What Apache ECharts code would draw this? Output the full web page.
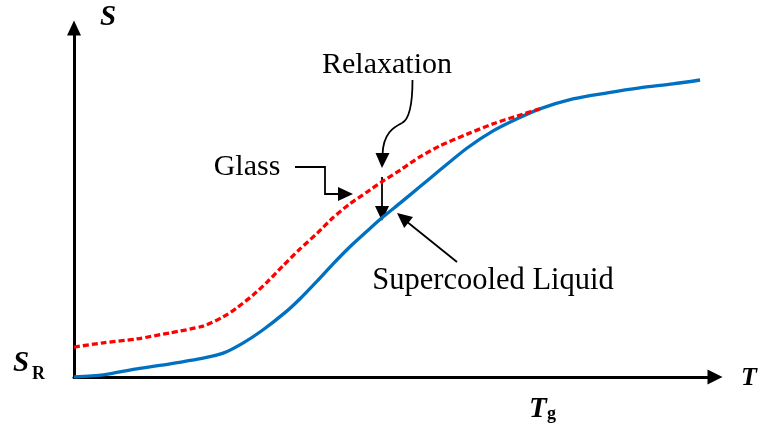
<!DOCTYPE html>
<html>
<head>
<meta charset="utf-8">
<script src="https://cdn.jsdelivr.net/npm/echarts@6/dist/echarts.min.js"></script>
<style>html,body{margin:0;padding:0;background:#fff}#c{width:763px;height:427px}</style>
</head>
<body>
<div id="c"></div>
<script>
// Supercooled liquid curve (T, S) in arbitrary units
const liquidT = [0, 4.5, 9.7, 14.8, 19.9, 23.0, 26.1, 29.1, 32.8, 34.8, 37.5, 39.9, 42.5, 45.2, 47.6, 50.3, 53.3, 56.4, 60.6, 64.6, 68.3, 71.8, 76.9, 82.2, 87.2, 92.3, 96.5];
const liquidS = [0, 0.6, 2.3, 3.7, 5.3, 6.7, 9.6, 13.2, 18.5, 21.9, 27.0, 31.7, 36.5, 41.0, 44.9, 48.9, 53.4, 58.1, 64.3, 69.1, 72.5, 75.3, 78.1, 79.8, 81.2, 82.3, 83.4];
// Glass curve (T, S)
const glassT = [0, 4.5, 9.7, 14.8, 19.9, 23.0, 25.1, 27.6, 29.8, 32.2, 34.8, 37.5, 39.9, 42.5, 45.2, 47.6, 50.3, 53.3, 56.4, 60.6, 64.6, 68.3, 71.8];
const glassS = [8.4, 9.6, 10.7, 12.4, 14.3, 16.9, 19.4, 23.0, 26.7, 31.2, 35.9, 40.4, 44.7, 48.6, 52.0, 55.0, 58.1, 61.8, 64.9, 68.2, 71.1, 73.3, 75.3];
// Axis / annotation labels
const labelS = 'S';
const labelSR = ['S', 'R'];
const labelT = 'T';
const labelTg = ['T', 'g'];
const annGlass = 'Glass';
const annRelax = 'Relaxation';
const annLiquid = 'Supercooled Liquid';

const chart = echarts.init(document.getElementById('c'), null, {renderer: 'canvas'});
const serif = '"Liberation Serif", "Times New Roman", serif';
const pair = (xs, ys) => xs.map((x, i) => [x, ys[i]]);
function txt(x, y, text, size, bold, italic, align) {
  return {type: 'text', x: x, y: y, z: 100, style: {
    text: text, fill: '#000', textAlign: align || 'left', textVerticalAlign: 'middle',
    font: (italic ? 'italic ' : '') + (bold ? 'bold ' : '') + size + 'px ' + serif}};
}
const blk = {stroke: '#000', lineWidth: 1.8, fill: null};
chart.setOption({
  animation: false,
  backgroundColor: '#fff',
  grid: {left: 74, right: 48, top: 28, bottom: 50},
  xAxis: {type: 'value', min: 0, max: 98.8, axisLabel: {show: false}, axisTick: {show: false}, splitLine: {show: false},
    axisLine: {lineStyle: {color: '#000', width: 3}, symbol: ['none', 'triangle'], symbolSize: [15, 15]}},
  yAxis: {type: 'value', min: 0, max: 98, axisLabel: {show: false}, axisTick: {show: false}, splitLine: {show: false},
    axisLine: {lineStyle: {color: '#000', width: 3}, symbol: ['none', 'triangle'], symbolSize: [14, 15]}},
  series: [
    {type: 'line', data: pair(liquidT, liquidS), smooth: 0.25, showSymbol: false, z: 2,
      lineStyle: {color: '#0070C0', width: 3.3}},
    {type: 'line', data: pair(glassT, glassS), smooth: 0.25, showSymbol: false, z: 3,
      lineStyle: {color: '#FF0000', width: 3.3, type: [6, 3]}}
  ],
  graphic: [
    txt(100, 18, labelS, 29, true, true),
    txt(13, 364, labelSR[0], 29, true, true),
    txt(32, 374, labelSR[1], 18, true, false),
    txt(741, 378, labelT, 26, true, true),
    txt(529, 410, labelTg[0], 29, true, true),
    txt(547, 414, labelTg[1], 18, true, false),
    txt(387, 65, annRelax, 30, false, false, 'center'),
    txt(247, 167, annGlass, 30, false, false, 'center'),
    txt(493, 281, annLiquid, 30.5, false, false, 'center'),
    // Glass elbow arrow
    {type: 'polyline', shape: {points: [[295, 167], [325, 167], [325, 194], [340, 194]]}, style: blk},
    {type: 'polygon', shape: {points: [[338, 187], [338, 201], [353, 194]]}, style: {fill: '#000'}},
    // Relaxation curved arrow
    {type: 'bezierCurve', shape: {x1: 412.5, y1: 80, cpx1: 412.5, cpy1: 100, cpx2: 410, cpy2: 119, x2: 402, y2: 123}, style: blk},
    {type: 'bezierCurve', shape: {x1: 402, y1: 123, cpx1: 394, cpy1: 127, cpx2: 383, cpy2: 133, x2: 382.5, y2: 155}, style: blk},
    {type: 'polygon', shape: {points: [[375.5, 153], [389.5, 153], [382, 168]]}, style: {fill: '#000'}},
    // Vertical relaxation arrow
    {type: 'line', shape: {x1: 382, y1: 177, x2: 382, y2: 207}, style: blk},
    {type: 'polygon', shape: {points: [[375, 206], [389, 206], [382, 221]]}, style: {fill: '#000'}},
    // Supercooled liquid arrow
    {type: 'line', shape: {x1: 457, y1: 262, x2: 406, y2: 221}, style: blk},
    {type: 'polygon', shape: {points: [[397, 213], [404.2, 227.9], [413, 217.1]]}, style: {fill: '#000'}}
  ]
});
</script>
</body>
</html>
